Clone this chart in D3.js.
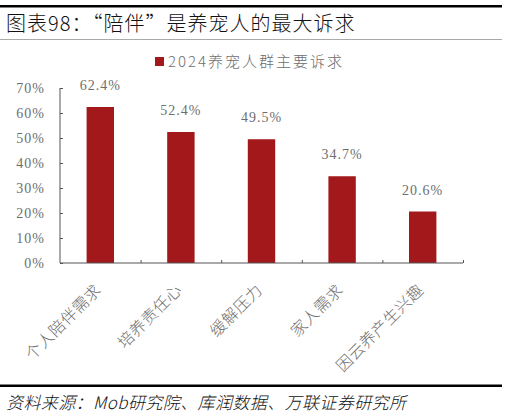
<!DOCTYPE html>
<html><head><meta charset="utf-8">
<script src="https://cdn.jsdelivr.net/npm/d3@7"></script>
<style>body{margin:0;background:#fff;}svg{display:block;}</style>
</head><body>
<script>
const categories = ["个人陪伴需求","培养责任心","缓解压力","家人需求","因云养产生兴趣"];
const values = [62.4, 52.4, 49.5, 34.7, 20.6];
const yTicks = [0,10,20,30,40,50,60,70];
const seriesName = "2024养宠人群主要诉求";
const title = "图表98：“陪伴”是养宠人的最大诉求";
const source = "资料来源：Mob研究院、库润数据、万联证券研究所";

const W = 507, H = 419;
const svg = d3.select("body").append("svg").attr("width", W).attr("height", H);
const serif = "'Liberation Serif','Noto Sans CJK SC',serif";
const cjk = "'Noto Sans CJK SC','Liberation Serif',serif";
const red = "#A3191B";
const gray = "#6e6e6e";

// header
svg.append("rect").attr("x",0).attr("y",5).attr("width",502).attr("height",2.5).attr("fill","#000");
svg.append("text").attr("x",6).attr("y",31).attr("font-family",cjk).attr("font-weight",300).attr("font-size",20)
  .attr("letter-spacing",1).attr("fill","#111").text(title);
svg.append("rect").attr("x",0).attr("y",39).attr("width",502).attr("height",1).attr("fill","#aaa");

// footer
svg.append("rect").attr("x",0).attr("y",384.5).attr("width",502).attr("height",2.5).attr("fill","#000");
svg.append("text").attr("x",6).attr("y",409).attr("font-family",cjk).attr("font-style","italic").attr("font-weight",300)
  .attr("font-size",17).attr("letter-spacing",0.4).attr("fill","#111").text(source);

const x = d3.scaleBand().domain(categories).range([60,463]).paddingInner(0.66).paddingOuter(0.33);
const y = d3.scaleLinear().domain([0,70]).range([263,88]);

// bars
svg.selectAll(".bar").data(values).join("rect")
  .attr("x",(d,i)=>x(categories[i])).attr("y",d=>y(d))
  .attr("width",x.bandwidth()).attr("height",d=>y(0)-y(d)).attr("fill",red);

// value labels
svg.selectAll(".vl").data(values).join("text")
  .attr("x",(d,i)=>x(categories[i])+x.bandwidth()/2).attr("y",d=>y(d)-17)
  .attr("text-anchor","middle").attr("font-family",serif).attr("font-size",14).attr("letter-spacing",1).attr("fill",gray)
  .text(d=>d.toFixed(1)+"%");

// y axis
const yAxis = svg.append("g").attr("transform","translate(60,0)")
  .call(d3.axisRight(y).tickValues(yTicks).tickSize(3).tickFormat(""));
yAxis.select(".domain").attr("stroke","#555").attr("d","M0,88V263");
yAxis.selectAll(".tick line").attr("stroke","#555");
svg.selectAll(".yl").data(yTicks).join("text")
  .attr("x",45).attr("y",d=>y(d)).attr("dy","0.35em").attr("text-anchor","end")
  .attr("font-family",serif).attr("font-size",14).attr("letter-spacing",1).attr("fill",gray).text(d=>d+"%");

// x axis
const xb = d3.scaleLinear().domain([0,categories.length]).range([60,463]);
const xAxis = svg.append("g").attr("transform","translate(0,263)")
  .call(d3.axisTop(xb).tickValues(d3.range(1,categories.length+1)).tickSize(3).tickFormat(""));
xAxis.select(".domain").attr("stroke","#555").attr("d","M60,0H463");
xAxis.selectAll(".tick line").attr("stroke","#555");

svg.selectAll(".xl").data(categories).join("text")
  .attr("transform",d=>`translate(${x(d)+x.bandwidth()/2+2},291) rotate(-45)`)
  .attr("text-anchor","end").attr("font-family",cjk).attr("font-weight",300).attr("font-size",16).attr("letter-spacing",0.5).attr("fill",gray)
  .text(d=>d);

// legend
svg.append("rect").attr("x",155).attr("y",57).attr("width",9).attr("height",9).attr("fill",red);
svg.append("text").attr("x",168).attr("y",61.5).attr("dy","0.35em").attr("font-family",cjk).attr("font-weight",300)
  .attr("font-size",15).attr("letter-spacing",2).attr("fill",gray).text(seriesName);
</script>
</body></html>
